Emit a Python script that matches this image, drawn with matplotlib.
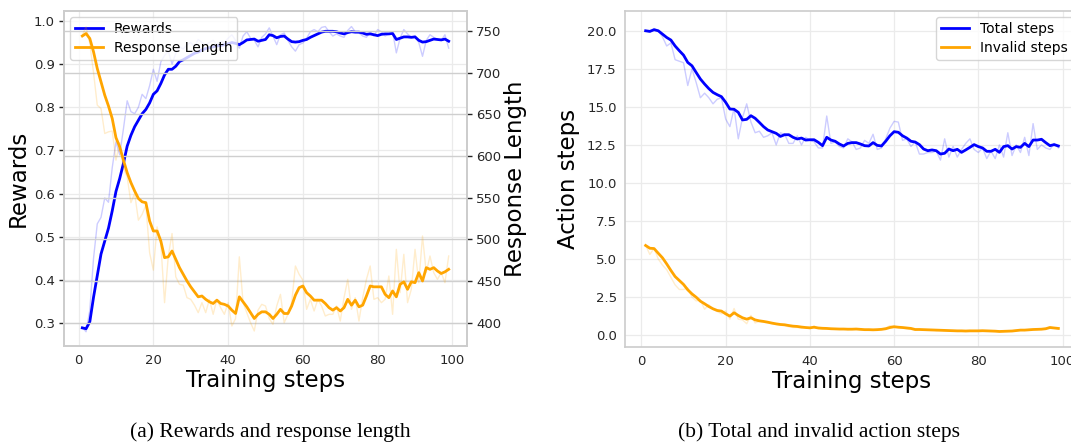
import matplotlib
matplotlib.use("Agg")
import matplotlib.pyplot as plt
import numpy as np

# (a) rewards / response length, steps 1..99
rewards_raw = [
    0.29, 0.28, 0.33, 0.45, 0.53, 0.545, 0.59, 0.58, 0.66, 0.72,
    0.69, 0.75, 0.815, 0.79, 0.785, 0.80, 0.83, 0.82, 0.85, 0.888,
    0.86, 0.905, 0.92, 0.93, 0.90, 0.925, 0.94, 0.935, 0.945, 0.95,
    0.94, 0.957, 0.95, 0.945, 0.95, 0.955, 0.945, 0.952, 0.95, 0.96,
    0.968, 0.955, 0.937, 0.965, 0.975, 0.96, 0.955, 0.94, 0.962, 0.97,
    0.984, 0.965, 0.945, 0.968, 0.972, 0.955, 0.94, 0.93, 0.945, 0.949,
    0.96, 0.975, 0.98, 0.975, 0.985, 0.987, 0.975, 0.965, 0.97, 0.965,
    0.962, 0.978, 0.987, 0.975, 0.972, 0.965, 0.962, 0.975, 0.965, 0.98,
    0.975, 0.965, 0.97, 0.975, 0.926, 0.96, 0.98, 0.97, 0.962, 0.965,
    0.95, 0.918, 0.955, 0.968, 0.962, 0.957, 0.955, 0.968, 0.937,
]
rewards_smooth = [
    0.289, 0.287, 0.303, 0.36, 0.41, 0.46, 0.49, 0.52, 0.56, 0.605,
    0.635, 0.67, 0.71, 0.735, 0.755, 0.77, 0.785, 0.795, 0.81, 0.83,
    0.838, 0.855, 0.875, 0.888, 0.888, 0.895, 0.906, 0.91, 0.915, 0.92,
    0.925, 0.928, 0.933, 0.936, 0.938, 0.94, 0.942, 0.943, 0.945, 0.947,
    0.95, 0.948, 0.945, 0.95, 0.956, 0.957, 0.958, 0.953, 0.955, 0.957,
    0.968, 0.966, 0.961, 0.964, 0.965, 0.958, 0.952, 0.951, 0.952, 0.955,
    0.957, 0.962, 0.966, 0.97, 0.974, 0.976, 0.976, 0.976, 0.975, 0.972,
    0.97, 0.973, 0.975, 0.974, 0.974, 0.972, 0.969, 0.97, 0.968, 0.966,
    0.969, 0.97, 0.97, 0.971, 0.957, 0.96, 0.963, 0.963, 0.962, 0.963,
    0.955, 0.951, 0.952, 0.955, 0.958, 0.957, 0.956, 0.958, 0.953,
]
resp_raw = [
    745, 755, 735, 700, 661, 657, 627, 629, 630, 595,
    616, 585, 575, 544, 555, 523, 530, 541, 484, 463,
    515, 495, 424, 480, 507, 455, 446, 445, 430, 428,
    421, 412, 424, 412, 428, 410, 428, 418, 410, 424,
    396, 405, 479, 424, 412, 400, 390, 415, 422, 420,
    405, 398, 420, 434, 400, 410, 424, 468, 458, 451,
    416, 428, 414, 428, 420, 408, 410, 410, 420, 402,
    430, 452, 416, 430, 402, 430, 452, 468, 428, 430,
    424, 428, 456, 410, 488, 436, 482, 424, 440, 488,
    448, 504, 460, 480, 460, 452, 460, 448, 480,
]
resp_smooth = [
    744, 747, 741, 725, 705, 689, 673, 660, 645, 622,
    611, 595, 580, 568, 558, 549, 545, 544, 522, 510,
    510, 498, 478, 479, 486, 476, 466, 458, 450, 443,
    437, 431, 432, 428, 425, 423, 427, 423, 422, 420,
    415, 411, 431, 425, 419, 412, 405, 410, 413, 413,
    410, 405, 410, 416, 411, 411, 420, 433, 442, 444,
    436, 432, 427, 427, 427, 423, 418, 415, 418, 414,
    418, 428, 421, 427, 419, 421, 432, 444, 443, 443,
    443, 434, 430, 438, 431, 446, 449, 440, 449, 448,
    460, 450, 466, 464, 466, 462, 459, 461, 464,
]

# (b) total / invalid action steps
total_raw = [
    20.0, 19.9, 20.15, 20.0, 19.6, 19.0, 19.2, 18.1, 18.0, 17.9,
    16.4, 17.5, 16.6, 15.6, 15.9, 15.6, 15.2, 15.5, 15.6, 14.2,
    13.7, 14.9, 12.9, 14.3, 15.2, 14.0, 13.3, 13.4, 13.0, 13.1,
    13.3, 12.5, 13.3, 13.2, 12.6, 12.6, 13.1, 12.5, 13.0, 12.8,
    12.7, 12.3, 12.3, 14.4, 12.6, 12.7, 12.4, 12.3, 12.9, 12.7,
    12.2, 12.3, 12.8, 12.6, 13.2, 12.2, 12.3, 12.9, 13.6, 14.05,
    14.0, 12.8, 12.9, 12.4, 12.7, 11.9, 11.9, 12.0, 12.0, 12.1,
    11.5, 12.9, 11.7, 12.4, 11.7, 12.2, 12.6, 12.9, 12.2, 12.0,
    12.3, 11.6, 12.1, 11.6, 12.5, 11.7, 13.3, 11.8, 12.5, 12.0,
    13.0, 11.8, 13.9, 12.2, 12.5, 12.3, 12.2, 12.6, 12.3,
]
total_smooth = [
    20.0, 19.96, 20.07, 20.0, 19.78, 19.56, 19.39, 19.0, 18.69, 18.4,
    17.92, 17.7, 17.26, 16.83, 16.5, 16.2, 15.95, 15.8, 15.67, 15.3,
    14.86, 14.84, 14.64, 14.14, 14.18, 14.42, 14.25, 13.98, 13.7, 13.48,
    13.37, 13.26, 13.06, 13.17, 13.17, 13.0, 12.89, 12.95, 12.82, 12.84,
    12.84, 12.67, 12.45, 13.0, 12.82, 12.74, 12.56, 12.43, 12.6, 12.65,
    12.65, 12.56, 12.45, 12.43, 12.65, 12.47, 12.43, 12.74, 13.1, 13.37,
    13.33, 13.1, 12.95, 12.74, 12.69, 12.52, 12.23, 12.12, 12.17, 12.12,
    11.9, 11.95, 12.23, 12.12, 12.21, 12.01, 12.17, 12.34, 12.52, 12.39,
    12.3, 12.08, 12.08, 12.21, 12.01, 12.39, 12.45, 12.23, 12.39, 12.34,
    12.6, 12.39, 12.82, 12.82, 12.87, 12.65, 12.45, 12.52, 12.43,
]
invalid_raw = [
    5.9, 5.3, 5.7, 5.0, 4.6, 4.3, 3.8, 3.3, 3.0, 3.0,
    3.1, 2.5, 2.25, 2.3, 1.7, 2.0, 1.7, 1.55, 1.4, 1.6,
    1.05, 1.75, 1.05, 1.0, 0.75, 1.3, 0.8, 0.9, 0.85, 0.8,
    0.75, 0.7, 0.65, 0.62, 0.55, 0.5, 0.5, 0.45, 0.5, 0.42,
    0.6, 0.43, 0.4, 0.42, 0.38, 0.4, 0.38, 0.42, 0.36, 0.4,
    0.42, 0.35, 0.33, 0.37, 0.32, 0.38, 0.4, 0.46, 0.62, 0.58,
    0.5, 0.47, 0.42, 0.38, 0.32, 0.38, 0.34, 0.33, 0.36, 0.3,
    0.33, 0.3, 0.28, 0.3, 0.26, 0.29, 0.26, 0.3, 0.27, 0.29,
    0.3, 0.26, 0.27, 0.24, 0.23, 0.27, 0.25, 0.28, 0.32, 0.35,
    0.31, 0.37, 0.38, 0.37, 0.42, 0.44, 0.55, 0.45, 0.43,
]
invalid_smooth = [
    5.89, 5.71, 5.69, 5.38, 5.08, 4.68, 4.25, 3.85, 3.59, 3.33,
    2.98, 2.71, 2.49, 2.23, 2.06, 1.88, 1.73, 1.62, 1.58, 1.4,
    1.25, 1.47, 1.29, 1.14, 1.05, 1.14, 1.0, 0.94, 0.9, 0.85,
    0.79, 0.74, 0.7, 0.68, 0.63, 0.59, 0.57, 0.53, 0.5, 0.48,
    0.52, 0.47, 0.45, 0.44, 0.42, 0.41, 0.4, 0.4, 0.39, 0.39,
    0.4, 0.38, 0.36, 0.36, 0.35, 0.36, 0.38, 0.42, 0.5, 0.55,
    0.52, 0.5, 0.47, 0.44, 0.37, 0.37, 0.36, 0.35, 0.34, 0.33,
    0.32, 0.31, 0.3, 0.29, 0.28, 0.28, 0.27, 0.28, 0.28, 0.28,
    0.29, 0.28, 0.27, 0.26, 0.24, 0.25, 0.26, 0.27, 0.3, 0.33,
    0.33, 0.35, 0.37, 0.38, 0.39, 0.42, 0.5, 0.47, 0.44,
]

BLUE = "blue"
ORANGE = "orange"
GRID_LIGHT = "#ebebeb"
GRID_TWIN = "#cfcfcf"
SPINE = "#cccccc"
TXT = "#262626"

plt.rcParams.update({
    "font.family": "DejaVu Sans",
    "axes.edgecolor": SPINE,
    "axes.linewidth": 1.2,
    "xtick.color": TXT,
    "ytick.color": TXT,
    "xtick.labelsize": 9.5,
    "ytick.labelsize": 9.5,
})


def steps(y):
    return np.arange(1, len(y) + 1)


def style_axes(ax, grid_color):
    ax.grid(True, color=grid_color, linewidth=0.9)
    ax.set_axisbelow(True)
    for sp in ax.spines.values():
        sp.set_color(SPINE)
    ax.tick_params(axis="x", length=0, pad=6)


fig = plt.figure(figsize=(10.71, 4.46), dpi=100)
W, H = 1071, 446

# ---- (a) ----
ax1 = fig.add_axes([64 / W, 1 - 346 / H, (467 - 64) / W, (346 - 11) / H])
style_axes(ax1, GRID_LIGHT)
ax1.tick_params(axis="y", length=3.5, width=1, color=TXT, pad=3)
ax1.plot(steps(rewards_raw), rewards_raw, color=BLUE, alpha=0.2, linewidth=1)
l1, = ax1.plot(steps(rewards_smooth), rewards_smooth, color=BLUE, linewidth=2, label="Rewards")
ax1.set_xlim(-3.9, 103.9)
ax1.set_ylim(0.247, 1.023)
ax1.set_xticks([0, 20, 40, 60, 80, 100])
ax1.set_yticks([0.3, 0.4, 0.5, 0.6, 0.7, 0.8, 0.9, 1.0])
ax1.set_xlabel("Training steps", fontsize=16.5, color="black", labelpad=1)
ax1.set_ylabel("Rewards", fontsize=16.5, color="black", labelpad=3)

ax1b = ax1.twinx()
ax1b.grid(True, axis="y", color=GRID_TWIN, linewidth=1)
ax1b.grid(False, axis="x")
for sp in ax1b.spines.values():
    sp.set_color(SPINE)
ax1b.tick_params(axis="y", length=3.5, width=1, color=TXT, pad=3)
ax1b.plot(steps(resp_raw), resp_raw, color=ORANGE, alpha=0.2, linewidth=1)
l2, = ax1b.plot(steps(resp_smooth), resp_smooth, color=ORANGE, linewidth=2, label="Response Length")
ax1b.set_ylim(372, 774)
ax1b.set_yticks([400, 450, 500, 550, 600, 650, 700, 750])
ax1b.set_ylabel("Response Length", fontsize=16.5, color="black", labelpad=2)

ax1.legend([l1, l2], ["Rewards", "Response Length"], loc="upper left",
           fontsize=10, frameon=True, framealpha=0.8, edgecolor="#cccccc",
           borderaxespad=0.45, handlelength=2.0, borderpad=0.35, labelspacing=0.35)

# ---- (b) ----
ax2 = fig.add_axes([625 / W, 1 - 347 / H, (1079 - 625) / W, (347 - 11) / H])
style_axes(ax2, GRID_LIGHT)
ax2.tick_params(axis="y", length=0, pad=6)
ax2.plot(steps(total_raw), total_raw, color=BLUE, alpha=0.2, linewidth=1)
ax2.plot(steps(total_smooth), total_smooth, color=BLUE, linewidth=2, label="Total steps")
ax2.plot(steps(invalid_raw), invalid_raw, color=ORANGE, alpha=0.2, linewidth=1)
ax2.plot(steps(invalid_smooth), invalid_smooth, color=ORANGE, linewidth=2, label="Invalid steps")
ax2.set_xlim(-3.9, 103.9)
ax2.set_ylim(-0.78, 21.3)
ax2.set_xticks([0, 20, 40, 60, 80, 100])
ax2.set_yticks([0.0, 2.5, 5.0, 7.5, 10.0, 12.5, 15.0, 17.5, 20.0])
ax2.set_xlabel("Training steps", fontsize=16.5, color="black", labelpad=1)
ax2.set_ylabel("Action steps", fontsize=16.5, color="black", labelpad=5)
ax2.legend(loc="upper right", fontsize=10, frameon=True, framealpha=0.8,
           edgecolor="#cccccc", borderaxespad=0.45, borderpad=0.35, labelspacing=0.35)

# captions
fig.text(270 / W, 1 - 432 / H, "(a) Rewards and response length",
         family="Liberation Serif", fontsize=15.5, ha="center", va="center")
fig.text(819 / W, 1 - 432 / H, "(b) Total and invalid action steps",
         family="Liberation Serif", fontsize=15.5, ha="center", va="center")

fig.savefig("out.png", dpi=100)
